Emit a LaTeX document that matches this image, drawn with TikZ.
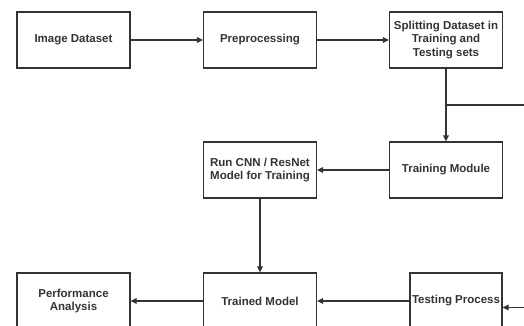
\documentclass[tikz,border=0pt]{standalone}
\usepackage{fontspec}
\setmainfont{Liberation Sans}
\usetikzlibrary{arrows.meta}
\definecolor{ink}{HTML}{333333}
\begin{document}
\begin{tikzpicture}[x=1pt,y=-1pt,
  stepbox/.style={draw=ink, line width=1.1pt, minimum width=113pt, minimum height=56pt,
    inner sep=2pt, align=center, text=ink, font=\fontsize{11.5}{13.5}\selectfont\bfseries},
  flow/.style={draw=ink, line width=1.1pt, -{Triangle[length=6pt,width=5.5pt]}},
  link/.style={draw=ink, line width=1.1pt}]
\useasboundingbox (0,0) rectangle (524,326);
% top row
\node[stepbox] (img)   at (73.5,40)  {Image Dataset};
\node[stepbox] (pre)   at (260,40)   {Preprocessing};
\node[stepbox] (split) at (446,40)   {Splitting Dataset in\\Training and\\Testing sets};
% middle row
\node[stepbox] (train) at (446,170)  {Training Module};
\node[stepbox] (cnn)   at (260,170)  {Run CNN / ResNet\\Model for Training};
% bottom row
\node[stepbox] (model) at (260,301)  {Trained Model};
\node[stepbox] (perf)  at (73.5,301) {Performance\\Analysis};
\node[stepbox, minimum width=92pt, inner sep=1pt] (test) at (456,301) {Testing Process};
% branch towards the testing path
\coordinate (fork) at (split.south |- 0,105);
\coordinate (out)  at (524,105);
\coordinate (in)   at (524,307.5);
% connectors
\draw[flow] (img) -- (pre);
\draw[flow] (pre) -- (split);
\draw[flow] (split) -- (train);
\draw[link] (fork) -- (out);
\draw[flow] (train) -- (cnn);
\draw[flow] (cnn) -- (model);
\draw[flow] (test) -- (model);
\draw[flow] (model) -- (perf);
\draw[flow] (in) -- (in -| test.east);
\end{tikzpicture}
\end{document}
